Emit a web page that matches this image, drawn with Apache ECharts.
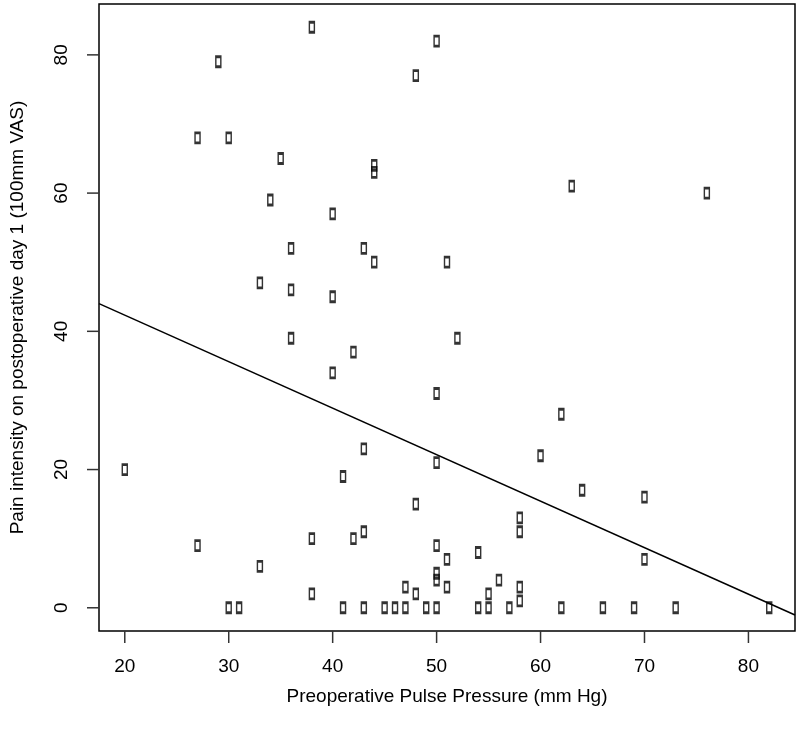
<!DOCTYPE html>
<html>
<head>
<meta charset="utf-8">
<script src="https://cdn.jsdelivr.net/npm/echarts@6/dist/echarts.min.js"></script>
<style>
html,body{margin:0;padding:0;background:#fff;}
#chart{width:800px;height:731px;}
</style>
</head>
<body>
<div id="chart"></div>
<script>
// Preoperative pulse pressure (mm Hg)
const pulsePressure = [
  38, 50, 29, 48, 27, 30, 35, 44, 44, 34, 40, 36, 43, 44, 51, 33, 36, 40,
  63, 76, 36, 42, 40, 50, 43, 50, 20, 41, 48, 43, 38, 42, 27, 50, 51, 33,
  50, 50, 51, 47, 48, 38,
  30, 31, 41, 43, 45, 46, 47, 49, 50,
  52, 62, 60, 64, 70, 58, 58, 54, 70, 56, 55, 58, 58,
  54, 55, 57, 62, 66, 69, 73, 82
];
// Pain intensity on postoperative day 1 (100mm VAS)
const painVAS = [
  84, 82, 79, 77, 68, 68, 65, 64, 63, 59, 57, 52, 52, 50, 50, 47, 46, 45,
  61, 60, 39, 37, 34, 31, 23, 21, 20, 19, 15, 11, 10, 10, 9, 9, 7, 6,
  5, 4, 3, 3, 2, 2,
  0, 0, 0, 0, 0, 0, 0, 0, 0,
  39, 28, 22, 17, 16, 13, 11, 8, 7, 4, 2, 3, 1,
  0, 0, 0, 0, 0, 0, 0, 0
];
// Regression line, read at the two ends of the x range
const fitX = [17.52, 84.48];
const fitY = [44.0, -1.05];
// Tick values
const xTicks = [20, 30, 40, 50, 60, 70, 80];
const yTicks = [0, 20, 40, 60, 80];
// Axis ranges (data range plus 4% padding)
const xMin = 17.52, xMax = 84.48;
const yMin = -3.36, yMax = 87.36;

const font = "'Liberation Sans', Arial, Helvetica, sans-serif";
const chart = echarts.init(document.getElementById('chart'));
const points = pulsePressure.map((x, i) => [x, painVAS[i]]);
const fitLine = fitX.map((x, i) => [x, fitY[i]]);

const G = { left: 96, right: 5, top: 4, bottom: 100 };
const TICK = 12;
const labelStyle = { fontFamily: font, fontSize: 19, color: '#000' };

chart.setOption({
  animation: false,
  backgroundColor: '#fff',
  grid: Object.assign({ show: true, borderColor: '#000', borderWidth: 1.5, backgroundColor: 'transparent' }, G),
  xAxis: {
    type: 'value', min: xMin, max: xMax,
    name: 'Preoperative Pulse Pressure (mm Hg)',
    nameLocation: 'middle', nameGap: 56,
    nameTextStyle: labelStyle,
    axisLine: { show: false, onZero: false },
    axisTick: { show: false },
    splitLine: { show: false },
    axisLabel: Object.assign({ customValues: xTicks, margin: 26 }, labelStyle)
  },
  yAxis: {
    type: 'value', min: yMin, max: yMax,
    name: 'Pain intensity on postoperative day 1 (100mm VAS)',
    nameLocation: 'middle', nameGap: 72,
    nameTextStyle: labelStyle,
    axisLine: { show: false, onZero: false },
    axisTick: { show: false },
    splitLine: { show: false },
    axisLabel: Object.assign({ customValues: yTicks, rotate: 90, margin: 28 }, labelStyle)
  },
  series: [
    {
      type: 'scatter',
      data: points,
      symbol: 'rect',
      symbolSize: [5, 10],
      itemStyle: { color: 'rgba(0,0,0,0)', borderColor: '#000', borderWidth: 2 },
      z: 3
    },
    {
      type: 'line',
      data: fitLine,
      symbol: 'none',
      clip: true,
      lineStyle: { color: '#000', width: 1.5 },
      z: 2
    }
  ]
});

// tick marks, placed through the chart's own axis scales
const bottomPx = chart.convertToPixel({ yAxisIndex: 0 }, yMin);
const leftPx = chart.convertToPixel({ xAxisIndex: 0 }, xMin);
const tickStyle = { stroke: '#333', lineWidth: 1.5 };
const tickGraphics = [];
xTicks.forEach(v => {
  const x = chart.convertToPixel({ xAxisIndex: 0 }, v);
  tickGraphics.push({ type: 'line', z: 100, silent: true,
    shape: { x1: x, y1: bottomPx, x2: x, y2: bottomPx + TICK }, style: tickStyle });
});
yTicks.forEach(v => {
  const y = chart.convertToPixel({ yAxisIndex: 0 }, v);
  tickGraphics.push({ type: 'line', z: 100, silent: true,
    shape: { x1: leftPx - TICK, y1: y, x2: leftPx, y2: y }, style: tickStyle });
});
chart.setOption({ graphic: tickGraphics });
</script>
</body>
</html>
